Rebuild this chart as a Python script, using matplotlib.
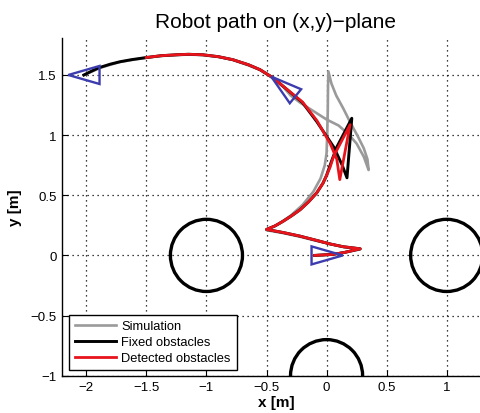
import numpy as np
import matplotlib
matplotlib.use("Agg")
import matplotlib.pyplot as plt
from matplotlib.patches import Circle, Polygon

plt.rcParams['font.family'] = ['Liberation Sans', 'DejaVu Sans']

# ---- data ----
sim_x = [-0.1, 0.05, 0.15, 0.28, 0.14, -0.08, -0.22, -0.36, -0.5, -0.4, -0.3, -0.2, -0.11, -0.05, -0.015,
         0.0, 0.005, 0.01, 0.012, 0.015, 0.04, 0.08, 0.14, 0.2, 0.26, 0.31, 0.34, 0.35, 0.31, 0.25, 0.18,
         0.1, 0.0, -0.11, -0.22, -0.3, -0.36, -0.443, -0.554, -0.65, -0.78, -0.9, -1.03, -1.15, -1.25,
         -1.38, -1.5, -1.62, -1.72, -1.8, -1.89, -1.95, -2.02]
sim_y = [0.0, 0.008, 0.025, 0.05, 0.07, 0.12, 0.155, 0.185, 0.21, 0.26, 0.33, 0.42, 0.53, 0.64, 0.75,
         0.85, 1.0, 1.2, 1.4, 1.53, 1.43, 1.33, 1.22, 1.1, 0.99, 0.89, 0.8, 0.71, 0.82, 0.93, 1.01,
         1.08, 1.13, 1.2, 1.27, 1.33, 1.40, 1.47, 1.542, 1.58, 1.625, 1.65, 1.665, 1.67, 1.665,
         1.658, 1.643, 1.625, 1.608, 1.585, 1.558, 1.53, 1.5]

fixed_x = [-0.1, 0.05, 0.15, 0.28, 0.2, 0.14, 0.03, -0.08, -0.22, -0.36, -0.5, -0.43, -0.36, -0.29,
           -0.22, -0.15, -0.082, -0.03, 0.0, 0.04, 0.085, 0.21, 0.17, 0.13, 0.06, -0.08, -0.2, -0.36,
           -0.443, -0.554, -0.65, -0.78, -0.9, -1.03, -1.15, -1.25, -1.38, -1.5, -1.62, -1.72, -1.8,
           -1.89, -1.95, -2.02]
fixed_y = [0.0, 0.008, 0.025, 0.055, 0.065, 0.072, 0.095, 0.124, 0.16, 0.19, 0.216, 0.245, 0.285, 0.33,
           0.38, 0.445, 0.52, 0.60, 0.665, 0.78, 0.9, 1.14, 0.645, 0.75, 0.9, 1.11, 1.27, 1.405,
           1.475, 1.544, 1.585, 1.627, 1.652, 1.668, 1.672, 1.668, 1.66, 1.645, 1.628, 1.61, 1.59,
           1.562, 1.535, 1.5]

det_x = [-0.1, 0.05, 0.15, 0.28, 0.2, 0.14, 0.03, -0.08, -0.22, -0.36, -0.5, -0.43, -0.36, -0.29,
         -0.22, -0.15, -0.082, -0.03, 0.0, 0.03, 0.057, 0.196, 0.11, 0.085, 0.03, -0.08, -0.2, -0.36,
         -0.443, -0.554, -0.65, -0.78, -0.9, -1.03, -1.15, -1.25, -1.38, -1.5]
det_y = [0.0, 0.008, 0.025, 0.055, 0.065, 0.072, 0.095, 0.124, 0.16, 0.19, 0.216, 0.245, 0.285, 0.33,
         0.38, 0.445, 0.52, 0.60, 0.665, 0.735, 0.82, 1.087, 0.63, 0.80, 0.93, 1.12, 1.275, 1.405,
         1.475, 1.544, 1.585, 1.627, 1.652, 1.668, 1.672, 1.668, 1.66, 1.645]

obs_x = [-1.0, 1.0, 0.0]
obs_y = [0.0, 0.0, -1.0]
obs_r = [0.3, 0.3, 0.3]

robot_x = [0.005, -0.36, -2.02]
robot_y = [0.0, 1.405, 1.5]
robot_th = [0.0, 141.0, 180.0]

xticks = [-2, -1.5, -1, -0.5, 0, 0.5, 1]
yticks = [-1, -0.5, 0, 0.5, 1, 1.5]
xtick_labels = ['\u22122', '\u22121.5', '\u22121', '\u22120.5', '0', '0.5', '1']
ytick_labels = ['\u22121', '\u22120.5', '0', '0.5', '1', '1.5']

# ---- figure ----
fig = plt.figure(figsize=(4.81, 4.14), dpi=100)
ax = fig.add_axes([0.1295, 0.0901, 0.8886, 0.815])

for cx, cy, r in zip(obs_x, obs_y, obs_r):
    ax.add_patch(Circle((cx, cy), r, fill=False, ec='black', lw=2.4, zorder=2))

ax.plot(sim_x, sim_y, color='#9a9a9a', lw=1.9, label='Simulation', zorder=3,
        solid_joinstyle='round')
ax.plot(fixed_x, fixed_y, color='black', lw=2.1, label='Fixed obstacles', zorder=4,
        solid_joinstyle='round')
ax.plot(det_x, det_y, color='#e8141c', lw=2.0, label='Detected obstacles', zorder=5,
        solid_joinstyle='round')

L, W = 0.13, 0.075
for rx, ry, th in zip(robot_x, robot_y, robot_th):
    t = np.deg2rad(th)
    c, s = np.cos(t), np.sin(t)
    pts = [(L, 0), (-L, W), (-L, -W)]
    verts = [(rx + px * c - py * s, ry + px * s + py * c) for px, py in pts]
    ax.add_patch(Polygon(verts, closed=True, fill=False, ec='#3c3cae', lw=1.7, zorder=6))

ax.set_xlim(-2.2, 1.358)
ax.set_ylim(-1, 1.805)

ax.set_xticks(xticks)
ax.set_xticklabels(xtick_labels)
ax.set_yticks(yticks)
ax.set_yticklabels(ytick_labels)
ax.tick_params(direction='in', length=4, width=0.8, labelsize=9.5, pad=4)
ax.grid(True, color='black', linestyle=(0, (1, 3.0)), lw=0.9)
ax.set_axisbelow(True)
for sp in ['top', 'right']:
    ax.spines[sp].set_visible(False)
for sp in ['left', 'bottom']:
    ax.spines[sp].set_linewidth(1.0)

ax.set_title('Robot path on (x,y)\u2212plane', fontsize=15, pad=8)
ax.set_xlabel('x [m]', fontsize=11, fontweight='bold', labelpad=1)
ax.set_ylabel('y [m]', fontsize=11, fontweight='bold', labelpad=6)

leg = ax.legend(loc='lower left', bbox_to_anchor=(69 / 481, (414 - 371) / 414),
                bbox_transform=fig.transFigure, borderaxespad=0, fontsize=9.3,
                handlelength=3.2, handletextpad=0.4, labelspacing=0.3, borderpad=0.45,
                fancybox=False, framealpha=1, edgecolor='black')
leg.get_frame().set_linewidth(1.0)
leg.set_zorder(10)

fig.savefig('out.png', dpi=100)
